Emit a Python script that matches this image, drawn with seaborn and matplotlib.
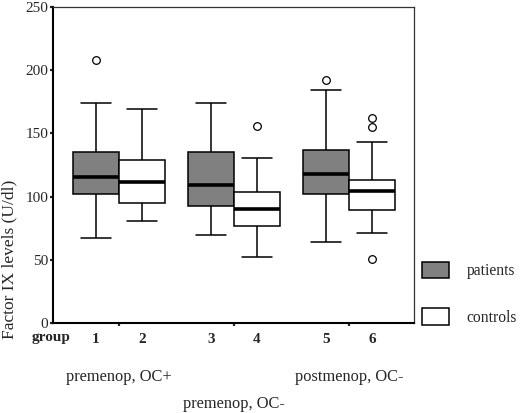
import numpy as np
import pandas as pd
import matplotlib.pyplot as plt
import seaborn as sns

# summary values (U/dl)
groups = ['premenop, OC+', 'premenop, OC-', 'postmenop, OC-']
subjects = ['patients', 'controls']
box_ids = ['1', '2', '3', '4', '5', '6']
whisker_low = [67, 81, 70, 52, 64, 71]
q1 = [102, 95, 92.5, 77, 102, 89]
median = [115.5, 111.5, 109, 90, 118, 104.5]
q3 = [135, 129, 135, 104, 137, 113]
whisker_high = [174, 169, 174, 130.5, 184, 143]
outliers = [[208], [], [], [156], [192], [162, 155, 51]]

# expand the five-number summaries into samples that reproduce them
rows = []
for i in range(6):
    vals = [whisker_low[i]] + [q1[i]] * 20 + [median[i]] * 20 + [q3[i]] * 20 + [whisker_high[i]] + outliers[i]
    for v in vals:
        rows.append({'group': groups[i // 2], 'subject': subjects[i % 2], 'value': v})
df = pd.DataFrame(rows)

sns.set_style('white')
plt.rcParams['font.family'] = ['Liberation Serif', 'DejaVu Serif']

fig = plt.figure(figsize=(5.2, 4.13), dpi=100)
ax = fig.add_axes([0.102, 0.218, 0.694, 0.765])

sns.boxplot(data=df, x='group', y='value', hue='subject', order=groups, hue_order=subjects,
            palette={'patients': '#808080', 'controls': 'white'}, width=0.8, gap=0,
            linecolor='black', linewidth=1.1, whis=1.5, ax=ax,
            medianprops=dict(color='black', linewidth=2.6),
            flierprops=dict(marker='o', markersize=5.5, markerfacecolor='white',
                            markeredgecolor='black', markeredgewidth=0.9),
            capwidths=0.26)

ax.set_xlim(-0.574, 2.565)
ax.set_ylim(0, 250)
ax.set_yticks([0, 50, 100, 150, 200, 250])
ax.tick_params(axis='y', direction='out', length=2.5, width=1.6, pad=1, labelsize=11, left=True)

pos = [-0.2, 0.2, 0.8, 1.2, 1.8, 2.2]
ax.set_xticks(pos)
ax.set_xticklabels(box_ids, fontweight='bold', fontsize=11)
ax.tick_params(axis='x', length=0, pad=7)
ax.set_xticks([0, 1, 2], minor=True)
ax.tick_params(axis='x', which='minor', direction='out', length=2.5, width=1.6, bottom=True)

ax.set_xlabel('')
ax.set_ylabel('Factor IX levels (U/dl)', fontsize=12.5)
ax.yaxis.set_label_coords(-0.1, 0.2)

for side in ['left', 'bottom']:
    ax.spines[side].set_linewidth(1.5)
    ax.spines[side].set_color('black')
for side in ['top', 'right']:
    ax.spines[side].set_linewidth(0.9)
    ax.spines[side].set_color('#333333')

ax.text(0.047, -0.047, 'group', transform=ax.transAxes, ha='right', va='center',
        fontweight='bold', fontsize=11)
label_y = [-0.17, -0.255, -0.17]
for i, g in enumerate(groups):
    ax.text(i, label_y[i], g, transform=ax.get_xaxis_transform(), ha='center', va='center',
            fontsize=11.8)

ax.legend(loc='upper left', bbox_to_anchor=(0.812, 0.366), bbox_transform=fig.transFigure,
          frameon=False, borderpad=0, borderaxespad=0, handlelength=1.7, handleheight=1.25,
          labelspacing=1.85, handletextpad=1.15, fontsize=11.2)

fig.savefig('out.png', dpi=100)
